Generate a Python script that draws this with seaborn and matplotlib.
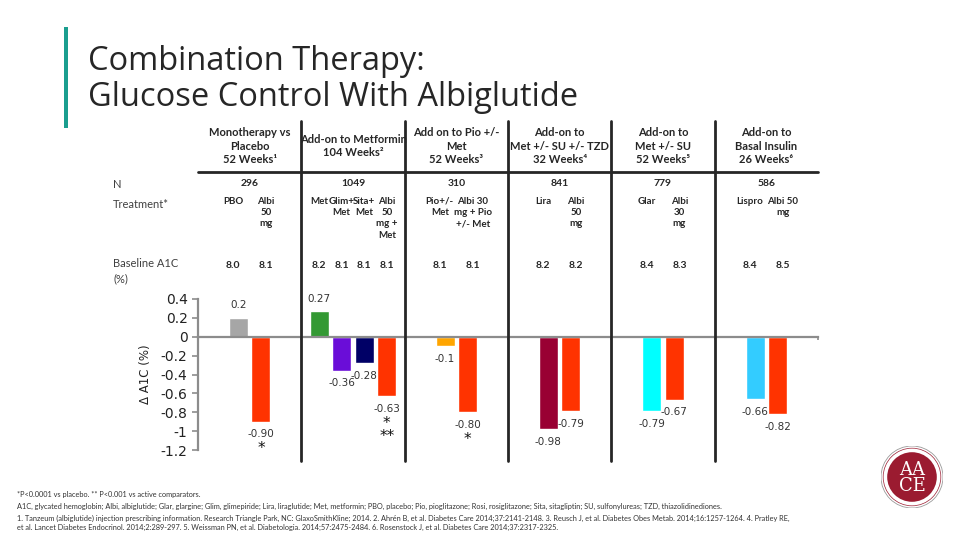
import matplotlib
matplotlib.use("Agg")
import matplotlib.pyplot as plt
import matplotlib.transforms as mtransforms
from matplotlib.lines import Line2D
from matplotlib.patches import Circle, Rectangle
import pandas as pd
import seaborn as sns

# Study columns of the table
study_headers = [
    "Monotherapy vs\nPlacebo\n52 Weeks\u00b9",
    "Add-on to Metformin\n104 Weeks\u00b2",
    "Add on to Pio +/-\nMet\n52 Weeks\u00b3",
    "Add-on to\nMet +/- SU +/- TZD\n32 Weeks\u2074",
    "Add-on to\nMet +/- SU\n52 Weeks\u2075",
    "Add-on to\nBasal Insulin\n26 Weeks\u2076",
]
study_n = ["296", "1049", "310", "841", "779", "586"]

# One entry per treatment arm (bar)
bar_study = [0, 0, 1, 1, 1, 1, 2, 2, 3, 3, 4, 4, 5, 5]
bar_treatment = [
    "PBO", "Albi\n50\nmg",
    "Met", "Glim+\nMet", "Sita+\nMet", "Albi\n50\nmg +\nMet",
    "Pio+/-\nMet", "Albi 30\nmg + Pio\n+/- Met",
    "Lira", "Albi\n50\nmg",
    "Glar", "Albi\n30\nmg",
    "Lispro", "Albi 50\nmg",
]
bar_change = [0.2, -0.90, 0.27, -0.36, -0.28, -0.63, -0.1, -0.80,
              -0.98, -0.79, -0.79, -0.67, -0.66, -0.82]
bar_change_text = ["0.2", "-0.90", "0.27", "-0.36", "-0.28", "-0.63", "-0.1", "-0.80",
                   "-0.98", "-0.79", "-0.79", "-0.67", "-0.66", "-0.82"]
bar_baseline = ["8.0", "8.1", "8.2", "8.1", "8.1", "8.1", "8.1", "8.1",
                "8.2", "8.2", "8.4", "8.3", "8.4", "8.5"]
bar_stars = ["", "*", "", "", "", "*\n**", "", "*", "", "", "", "", "", ""]
bar_color = ["#a6a6a6", "#ff3300", "#339933", "#6a0dd8", "#000066", "#ff3300",
             "#ffa500", "#ff3300", "#990033", "#ff3300", "#00ffff", "#ff3300",
             "#33ccff", "#ff3300"]

y_ticks = [0.4, 0.2, 0, -0.2, -0.4, -0.6, -0.8, -1, -1.2]
y_tick_labels = ["0.4", "0.2", "0", "-0.2", "-0.4", "-0.6", "-0.8", "-1", "-1.2"]

footnotes = [
    "*P<0.0001 vs placebo. ** P<0.001 vs active comparators.",
    "A1C, glycated hemoglobin; Albi, albiglutide; Glar, glargine; Glim, glimepiride; Lira, liraglutide; "
    "Met, metformin; PBO, placebo; Pio, pioglitazone; Rosi, rosiglitazone; Sita, sitagliptin; SU, sulfonylureas; "
    "TZD, thiazolidinediones.",
    "1. Tanzeum (albiglutide) injection prescribing information. Research Triangle Park, NC: GlaxoSmithKline; 2014. "
    "2. Ahr\u00e9n B, et al. Diabetes Care 2014;37:2141-2148. 3. Reusch J, et al. Diabetes Obes Metab. "
    "2014;16:1257-1264. 4. Pratley RE,",
    "et al. Lancet Diabetes Endocrinol. 2014;2:289-297. 5. Weissman PN, et al. Diabetologia. 2014;57:2475-2484. "
    "6. Rosenstock J, et al. Diabetes Care 2014;37:2317-2325.",
]

W, H = 960, 540


def fy(px):
    # pixel row -> figure fraction
    return 1 - px / H


sns.set_theme(style="white")
plt.rcParams["font.family"] = ["DejaVu Sans"]
plt.rcParams["axes.unicode_minus"] = False

TEXT = "#333333"
SEP = "#262626"
PITCH = 0.218       # spacing between bars inside a study column
PAIR_TEXT = 0.32    # spacing of table text for two-arm studies

df = pd.DataFrame({
    "study": bar_study,
    "treatment": bar_treatment,
    "change": bar_change,
    "label": bar_change_text,
    "baseline": bar_baseline,
    "stars": bar_stars,
    "color": bar_color,
})
df["slot"] = df.groupby("study").cumcount()
df["count"] = df.groupby("study")["study"].transform("size")
df["rel"] = df["slot"] - (df["count"] - 1) / 2
df["pos"] = df["study"] + df["rel"] * PITCH
df["text_pos"] = df["study"] + df["rel"] * df["count"].map(lambda c: PAIR_TEXT if c == 2 else PITCH)

fig = plt.figure(figsize=(9.6, 5.4), dpi=100)
ax = fig.add_axes([198 / W, fy(450), 620 / W, (450 - 299) / H])

sns.barplot(data=df, x="pos", y="change", hue="color",
            palette={c: c for c in bar_color}, native_scale=True, dodge=False,
            width=0.845, errorbar=None, legend=False, saturation=1, ax=ax)

ax.set_xlim(-0.5, 5.5)
ax.set_ylim(-1.2, 0.4)
ax.set_yticks(y_ticks)
ax.set_yticklabels(y_tick_labels, fontsize=10, color="#222222")
ax.set_xticks([i - 0.5 for i in range(len(study_headers) + 1)])
ax.set_xticklabels([])
ax.set_xlabel("")
ax.set_ylabel("\u0394 A1C (%)", fontsize=8.5, color="#222222", labelpad=6)
for s in ["top", "right"]:
    ax.spines[s].set_visible(False)
ax.spines["bottom"].set_position(("data", 0))
for s in ["left", "bottom"]:
    ax.spines[s].set_color("#8c8c8c")
    ax.spines[s].set_linewidth(1.6)
ax.tick_params(axis="y", direction="out", length=4.5, width=1.2, color="#8c8c8c", pad=3, left=True)
ax.tick_params(axis="x", direction="out", length=2.5, width=1.2, color="#8c8c8c", bottom=True)
ax.patch.set_alpha(0)

# value labels and significance stars
for r in df.itertuples():
    off = 9 if r.change > 0 else -9
    ax.annotate(r.label, (r.pos, r.change), xytext=(0, off), textcoords="offset points",
                ha="center", va="center", fontsize=7.5, color=TEXT)
    if r.stars:
        ax.annotate(r.stars, (r.pos, r.change), xytext=(0, off - 5), textcoords="offset points",
                    ha="center", va="top", fontsize=11, color="#111111", linespacing=0.85)

# table above the chart: x in data units, y in figure units
tr = mtransforms.blended_transform_factory(ax.transData, fig.transFigure)
table_font = ["Lato", "DejaVu Sans"]
for b in [i + 0.5 for i in range(len(study_headers) - 1)]:
    fig.add_artist(Line2D([b, b], [fy(121), fy(461)], transform=tr, color=SEP, lw=2))
fig.add_artist(Line2D([-0.5, 5.5], [fy(172), fy(172)], transform=tr, color=SEP, lw=2))

for i, (hdr, n) in enumerate(zip(study_headers, study_n)):
    fig.text(i, fy(146), hdr, transform=tr, ha="center", va="center", fontsize=8,
             fontweight="bold", family=table_font, color=SEP, linespacing=1.3)
    fig.text(i, fy(184), n, transform=tr, ha="center", va="center", fontsize=7.5,
             fontweight="bold", family=table_font, color=SEP)

for r in df.itertuples():
    fig.text(r.text_pos, fy(197), r.treatment, transform=tr, ha="center", va="top", fontsize=7,
             fontweight="bold", family=table_font, color=SEP, linespacing=1.32)
    fig.text(r.text_pos, fy(265), r.baseline, transform=tr, ha="center", va="center", fontsize=7.5,
             fontweight="bold", family=table_font, color=SEP)

row_kw = dict(fontsize=8, family=table_font, color="#404040")
fig.text(113 / W, fy(184), "N", va="center", **row_kw)
fig.text(113 / W, fy(204), "Treatment*", va="center", **row_kw)
fig.text(113 / W, fy(258), "Baseline A1C\n(%)", va="top", linespacing=1.5, **row_kw)

# title with accent bar
fig.add_artist(Rectangle((64 / W, fy(128)), 4 / W, 101 / H, transform=fig.transFigure,
                         color="#1a9e8f", lw=0))
title_font = ["Open Sans", "DejaVu Sans"]
fig.text(88 / W, fy(62), "Combination Therapy:", fontsize=23.5, family=title_font,
         color="#262626", va="center")
fig.text(88 / W, fy(97), "Glucose Control With Albiglutide", fontsize=23.5,
         family=title_font, color="#262626", va="center")

# footnotes
for y, line in zip([494, 506, 518, 527], footnotes):
    fig.text(17 / W, fy(y), line, fontsize=5.3, family=table_font, color="#333333", va="center")

# AACE seal
lax = fig.add_axes([881 / W, fy(508), 62 / W, 62 / H])
lax.set_xlim(-1, 1)
lax.set_ylim(-1, 1)
lax.set_aspect("equal")
lax.axis("off")
lax.add_patch(Circle((0, 0), 1, fc="white", ec="#9a9a9a", lw=0.6))
lax.add_patch(Circle((0, 0), 0.93, fc="none", ec="#9b1b30", lw=0.5))
lax.add_patch(Circle((0, 0), 0.8, fc="#9b1b30", ec="none"))
lax.text(0, 0.24, "AA", ha="center", va="center", color="white", fontsize=13,
         family="DejaVu Serif")
lax.text(0, -0.3, "CE", ha="center", va="center", color="white", fontsize=13,
         family="DejaVu Serif")

fig.savefig("out.png", dpi=100)
